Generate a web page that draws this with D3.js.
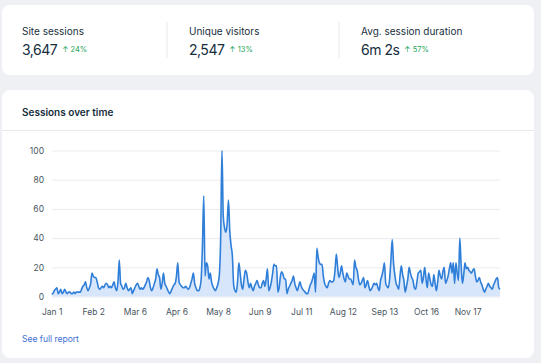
<!DOCTYPE html>
<html>
<head>
<meta charset="utf-8">
<script src="https://cdn.jsdelivr.net/npm/d3@7/dist/d3.min.js"></script>
<style>
  html, body { margin: 0; padding: 0; background: #eef0f3; }
  body { width: 541px; height: 363px; overflow: hidden; font-family: Inter, "Noto Sans", sans-serif; }
  svg { display: block; }
</style>
</head>
<body>
<svg id="chart" width="541" height="363"></svg>
<script>
// ---- data ----
const kpiLabels = ["Site sessions", "Unique visitors", "Avg. session duration"];
const kpiValues = ["3,647", "2,547", "6m 2s"];
const kpiChanges = ["24%", "13%", "57%"];

const sessions = [
  2,2,4,5,6,2,3,5, 2,3,5,3,2,3,3,2,2,3,
  2,3,3,3,3,5,7,8,10,6, 4,6,9,16,14,13,13,10,6,
  5,6,7,6,8,9,8,6,7,6, 8,10,6,4,10,25,9,7,5,6,
  9,6,4,5,6,2,4,6,8, 9,7,5,6,5,6,8,10,13,11,
  6,4,6,9,12,19,15,13,5,9, 16,9,7,5,3,2,4,6,8,
  9,14,23,10,8,7,6,6,7,6, 5,6,9,12,16,9,6,4,4,6,
  12,35,69,14,23,21,12,16,10, 7,5,4,6,9,15,40,100,55,47,
  44,50,66,45,35,28,8,4,3,10, 23,16,8,5,12,18,16,10,6,
  9,6,4,7,9,11,8,6,6,9, 11,7,12,19,4,6,10,16,22,21,
  21,3,6,14,17,15,12,12,2, 5,7,9,11,14,9,6,4,7,10,
  7,5,4,3,2,2,5,8,10,13, 16,3,33,27,23,22,22,14,9,
  7,6,9,11,10,10,11,18,29,20, 13,16,21,16,12,10,16,14,12,12,
  10,8,25,20,18,12,8,9,11, 13,6,8,11,7,4,5,7,9,8,
  9,6,4,11,14,18,23,9,7,6, 12,25,39,23,15,9,7,5,14,
  21,15,11,3,7,12,20,16,13,11, 6,5,10,16,17,18,9,13,20,12,
  6,16,12,8,7,15,9,4,10, 18,14,12,17,20,9,11,14,19,23,
  16,23,9,23,16,11,40,22,9,15, 23,19,20,18,17,16,18,19,14,
  10,11,13,10,8,5,3,5,7,9, 7,6,5,8,10,12,13,6,5
];
const xTickIndex = [0, 32, 64, 96, 128, 160, 192, 224, 256, 288, 320];
const xTickLabels = ["Jan 1", "Feb 2", "Mar 6", "Apr 6", "May 8", "Jun 9", "Jul 11", "Aug 12", "Sep 13", "Oct 16", "Nov 17"];
const yTicks = [0, 20, 40, 60, 80, 100];

// ---- drawing ----
const svg = d3.select("#chart");
const FONT = "Inter, 'Noto Sans', sans-serif";

// cards
svg.append("rect").attr("x", 2).attr("y", 5).attr("width", 532).attr("height", 70)
  .attr("rx", 8).attr("fill", "#fff");
svg.append("rect").attr("x", 2).attr("y", 90).attr("width", 532).attr("height", 268)
  .attr("rx", 8).attr("fill", "#fff");

// KPI row
const kpiX = [22, 189, 361];
const kpi = svg.append("g");
kpiLabels.forEach((lab, i) => {
  const g = kpi.append("g").attr("transform", `translate(${kpiX[i]},0)`);
  g.append("text").attr("x", 0).attr("y", 35).attr("font-size", 10)
    .attr("fill", "#20303c").text(lab);
  const v = g.append("text").attr("x", 0).attr("y", 54.5).attr("font-size", 14)
    .attr("letter-spacing", -0.5).attr("fill", "#162d3d").text(kpiValues[i]);
  const w = v.node().getComputedTextLength();
  g.append("text").attr("x", w + 5).attr("y", 51.5).attr("font-size", 7.5)
    .attr("fill", "#25a55a").text("↑ " + kpiChanges[i]);
});
[167, 339].forEach(x => {
  svg.append("line").attr("x1", x).attr("x2", x).attr("y1", 22).attr("y2", 58)
    .attr("stroke", "#e6e9ed").attr("stroke-width", 1);
});

// section header
svg.append("text").attr("x", 22).attr("y", 115.5).attr("font-size", 10)
  .attr("font-weight", 600).attr("fill", "#162d3d").text("Sessions over time");
svg.append("line").attr("x1", 2).attr("x2", 534).attr("y1", 130.5).attr("y2", 130.5)
  .attr("stroke", "#e8eaee");

// chart
const x = d3.scaleLinear().domain([0, 320]).range([51.7, 467.6]);
const y = d3.scaleLinear().domain([0, 100]).range([296.5, 150.5]);

const yAxis = d3.axisLeft(y).tickValues(yTicks).tickSize(-(500 - 52)).tickPadding(8);
const gy = svg.append("g").attr("transform", "translate(52,0)").call(yAxis);
gy.select(".domain").remove();
gy.selectAll(".tick line").attr("stroke", "#e9ebee");
gy.selectAll(".tick text").attr("font-size", 8.5).attr("fill", "#4a5560")
  .attr("font-family", FONT);

const xAxis = d3.axisBottom(x).tickValues(xTickIndex)
  .tickFormat((d, i) => xTickLabels[i]).tickSize(0).tickPadding(13);
const gx = svg.append("g").attr("transform", "translate(0,296)").call(xAxis);
gx.select(".domain").remove();
gx.selectAll(".tick text").attr("font-size", 8.5).attr("fill", "#4a5560")
  .attr("font-family", FONT);

const area = d3.area().x((d, i) => x(i)).y0(y(0)).y1(d => y(d)).curve(d3.curveMonotoneX);
const line = d3.line().x((d, i) => x(i)).y(d => y(d)).curve(d3.curveMonotoneX);

svg.append("path").datum(sessions).attr("d", area).attr("fill", "#d7e6fb");
svg.append("path").datum(sessions).attr("d", line).attr("fill", "none")
  .attr("stroke", "#2f7fd9").attr("stroke-width", 1.6).attr("stroke-linejoin", "round");

// footer link
svg.append("text").attr("x", 22).attr("y", 342).attr("font-size", 8.5)
  .attr("fill", "#3d6fd1").text("See full report");
</script>
</body>
</html>
